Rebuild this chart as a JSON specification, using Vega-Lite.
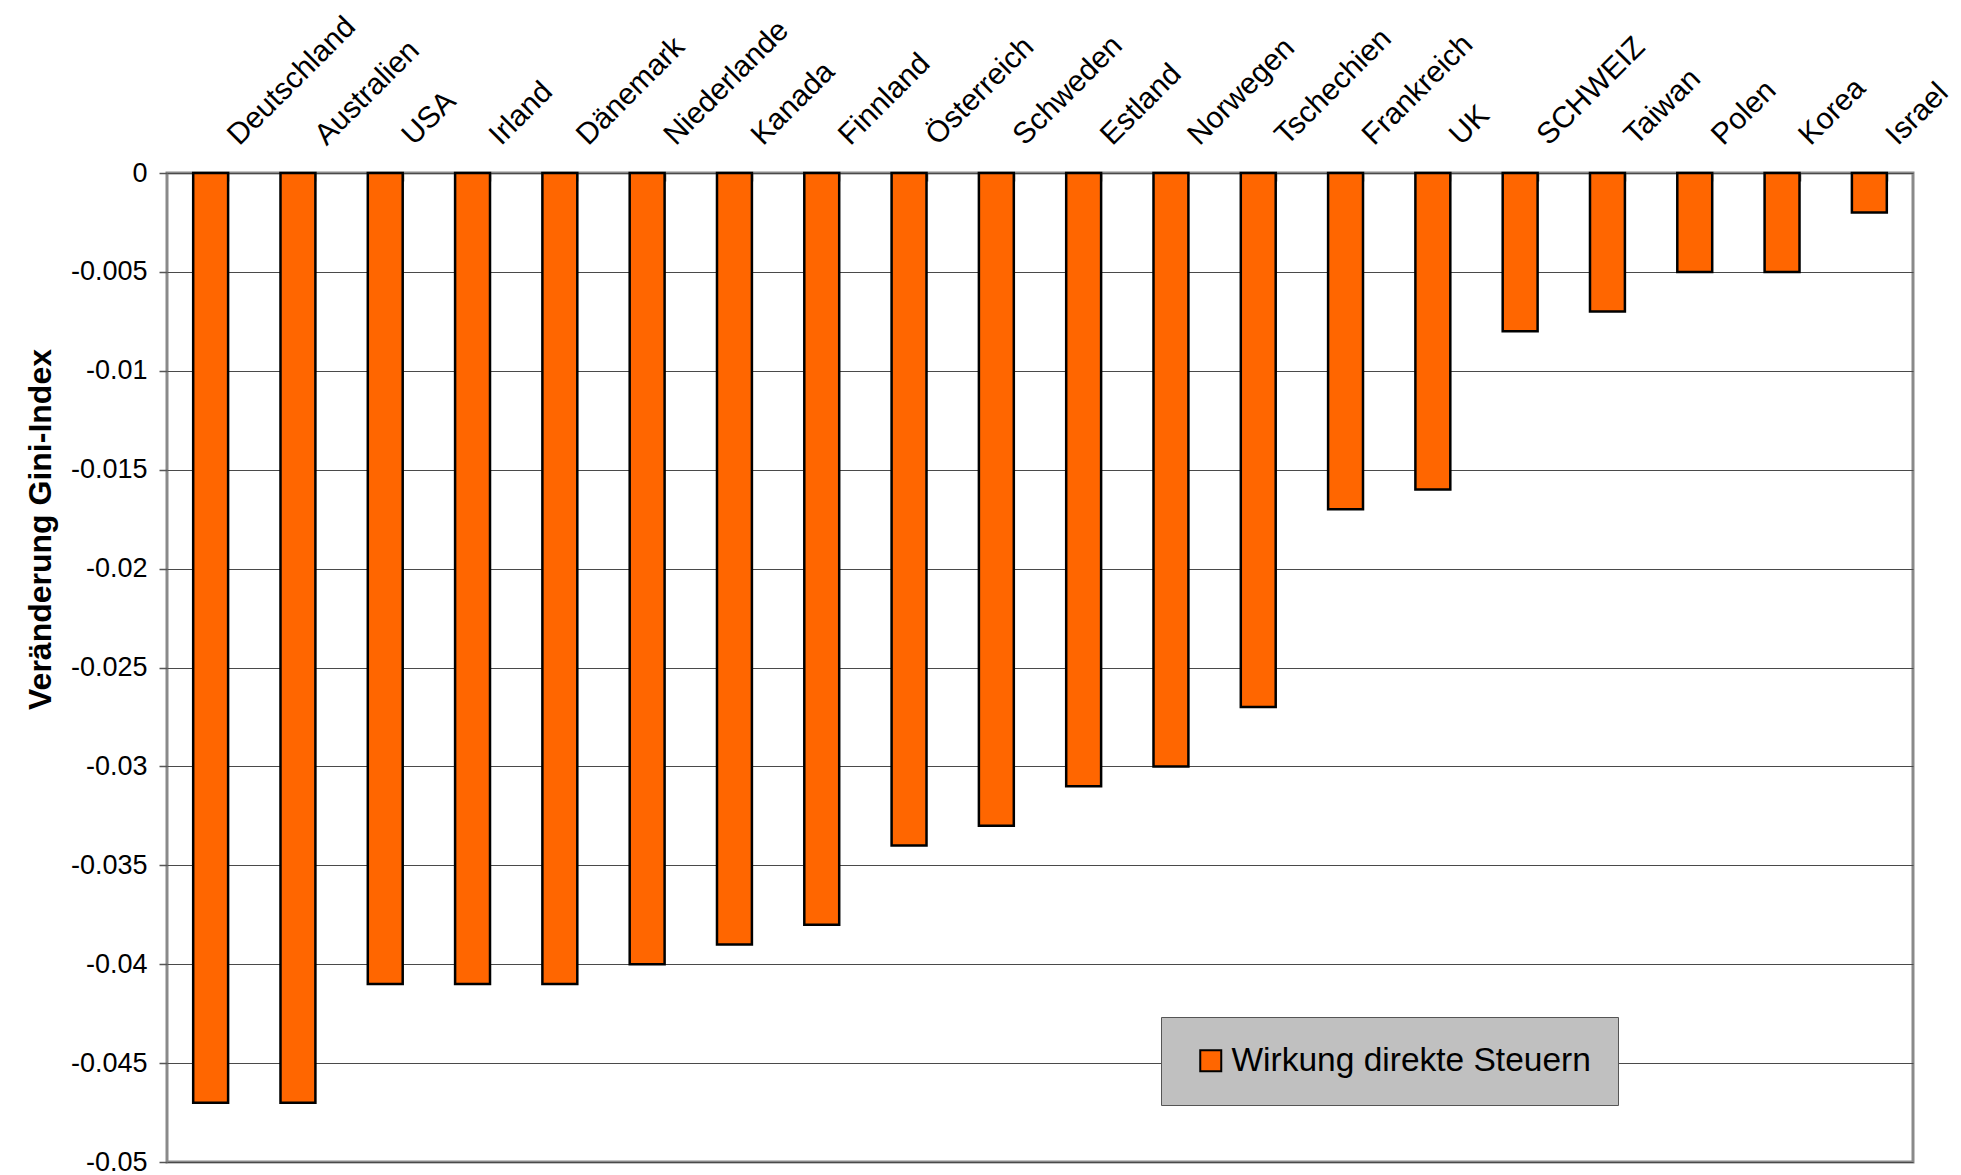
{
  "$schema": "https://vega.github.io/schema/vega-lite/v6.json",
  "width": 1746,
  "height": 989,
  "autosize": {"type": "none"},
  "padding": {"left": 167, "top": 173, "right": 48, "bottom": 13},
  "background": "white",
  "config": {
    "font": "Liberation Sans",
    "view": {"stroke": "#8a8a8a", "strokeWidth": 3}
  },
  "data": {
    "values": [
      {"Land": "Deutschland", "Wert": -0.047},
      {"Land": "Australien", "Wert": -0.047},
      {"Land": "USA", "Wert": -0.041},
      {"Land": "Irland", "Wert": -0.041},
      {"Land": "Dänemark", "Wert": -0.041},
      {"Land": "Niederlande", "Wert": -0.040},
      {"Land": "Kanada", "Wert": -0.039},
      {"Land": "Finnland", "Wert": -0.038},
      {"Land": "Österreich", "Wert": -0.034},
      {"Land": "Schweden", "Wert": -0.033},
      {"Land": "Estland", "Wert": -0.031},
      {"Land": "Norwegen", "Wert": -0.030},
      {"Land": "Tschechien", "Wert": -0.027},
      {"Land": "Frankreich", "Wert": -0.017},
      {"Land": "UK", "Wert": -0.016},
      {"Land": "SCHWEIZ", "Wert": -0.008},
      {"Land": "Taiwan", "Wert": -0.007},
      {"Land": "Polen", "Wert": -0.005},
      {"Land": "Korea", "Wert": -0.005},
      {"Land": "Israel", "Wert": -0.002}
    ]
  },
  "mark": {"type": "bar", "stroke": "black", "strokeWidth": 2.5},
  "encoding": {
    "x": {
      "field": "Land",
      "type": "nominal",
      "sort": null,
      "scale": {"paddingInner": 0.6, "paddingOuter": 0.3},
      "axis": {
        "orient": "top",
        "title": null,
        "labelAngle": -45,
        "labelAlign": "left",
        "labelBaseline": "alphabetic",
        "labelFontSize": 30,
        "labelColor": "black",
        "labelPadding": 35,
        "labelOffset": 28,
        "labelOverlap": false,
        "labelBound": false,
        "tickBand": "extent",
        "tickSize": -8,
        "tickColor": "#555555",
        "tickWidth": 1.5,
        "domain": false,
        "grid": false
      }
    },
    "y": {
      "field": "Wert",
      "type": "quantitative",
      "scale": {"domain": [-0.05, 0], "nice": false},
      "axis": {
        "title": "Veränderung Gini-Index",
        "values": [0, -0.005, -0.01, -0.015, -0.02, -0.025, -0.03, -0.035, -0.04, -0.045, -0.05],
        "labelExpr": "'' + datum.value",
        "labelFontSize": 27,
        "labelColor": "black",
        "labelPadding": 12,
        "tickSize": 8,
        "tickColor": "#555555",
        "tickWidth": 1.5,
        "domain": false,
        "grid": true,
        "gridColor": "#4a4a4a",
        "gridWidth": 1.2,
        "titleFontSize": 32,
        "titleFontWeight": "bold",
        "titleColor": "black",
        "titleAngle": -90,
        "titleX": -117,
        "titleY": 356,
        "titleAlign": "center",
        "titleBaseline": "alphabetic"
      }
    },
    "color": {
      "datum": "Wirkung direkte Steuern",
      "scale": {"range": ["#FF6600"]},
      "legend": {
        "title": null,
        "orient": "none",
        "legendX": 994,
        "legendY": 844,
        "fillColor": "#C0C0C0",
        "strokeColor": "#555555",
        "padding": 27,
        "symbolType": "square",
        "symbolSize": 441,
        "symbolStrokeColor": "black",
        "symbolStrokeWidth": 2,
        "symbolOffset": 6,
        "symbolOpacity": 1,
        "labelFontSize": 33.5,
        "labelOffset": 4,
        "labelColor": "black",
        "labelLimit": 0
      }
    }
  }
}
